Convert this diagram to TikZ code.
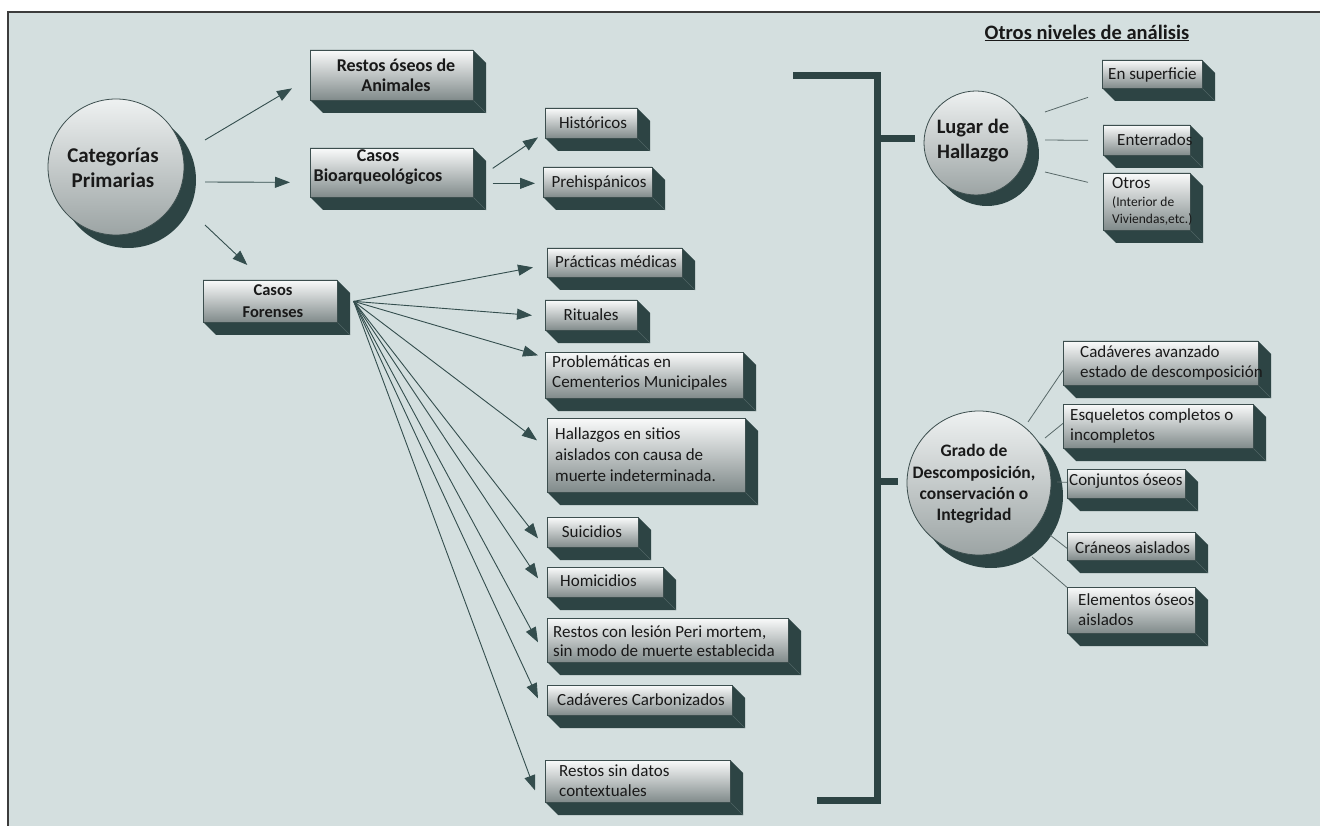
\documentclass[tikz,border=0pt]{standalone}
\usepackage{fontspec}
\setmainfont{Carlito}
\usetikzlibrary{arrows.meta,calc}
\definecolor{bgc}{RGB}{212,223,223}
\definecolor{dk}{RGB}{45,68,68}
\definecolor{dkedge}{RGB}{80,100,100}
\definecolor{arrc}{RGB}{52,78,78}
\definecolor{lnc}{RGB}{88,104,104}
\definecolor{facetop}{RGB}{249,250,250}
\definecolor{facebot}{RGB}{128,138,138}
\definecolor{facedraw}{RGB}{60,78,78}
\definecolor{balltop}{RGB}{238,241,241}
\definecolor{ballbot}{RGB}{156,164,164}
\definecolor{txt}{RGB}{25,25,25}
\definecolor{framec}{RGB}{60,60,60}
\tikzset{
  face/.style={draw=facedraw, line width=0.7pt, top color=facetop, bottom color=facebot, anchor=north west, inner sep=0pt},
  ball/.style={circle, draw=facedraw, line width=0.8pt, top color=balltop, bottom color=ballbot, inner sep=0pt},
  lbl/.style={inner sep=0pt, text=txt, font=\fontsize{17}{20}\selectfont, align=left},
  blbl/.style={inner sep=0pt, text=txt, align=center},
  arr/.style={draw=arrc, line width=0.9pt, -{Triangle[length=15pt,width=11pt]}},
  ln/.style={draw=lnc, line width=0.8pt},
  brk/.style={draw=dk, line width=7pt},
}
\newcommand\cbd{13}
\newcommand\cbox[5]{%
  \pgfmathsetmacro\cbw{#4-#2}%
  \pgfmathsetmacro\cbh{#5-#3}%
  \fill[dk] (#2,#3) -- (#4,#3) -- ({#4+\cbd},{#3+\cbd}) -- ({#4+\cbd},{#5+\cbd}) -- ({#2+\cbd},{#5+\cbd}) -- (#2,#5) -- cycle;
  \draw[dkedge, line width=0.6pt] (#4,#5) -- ({#4+\cbd},{#5+\cbd});
  \node[face, minimum width=\cbw pt, minimum height=\cbh pt] (#1) at (#2,#3) {};
}
\begin{document}
\begin{tikzpicture}[x=1pt,y=-1pt]
\useasboundingbox (0,0) rectangle (1320,826);
\fill[white] (0,0) rectangle (1320,826);
\fill[bgc] (8,12) rectangle (1320,826);
\draw[framec, line width=1.5pt] (8,826) -- (8,12) -- (1320,12);

% title
\node[blbl, font=\bfseries\fontsize{20.5}{24}\selectfont] (title) at (1087,33) {\underline{Otros niveles de análisis}};

% bracket
\draw[brk] (793,76) -- (877,76) -- (877,800) -- (817,800);
\draw[brk] (877,139) -- (915,139);
\draw[brk] (877,481) -- (898,481);

% primary circle
\fill[dk] (128,180) circle[radius=68pt];
\node[ball, minimum size=136pt] (cat) at (116,167) {};
\node[blbl, font=\bfseries\fontsize{21}{25}\selectfont] (cat-t) at (113,168) {Categorías\\Primarias};

% lugar circle
\fill[dk] (987,154) circle[radius=52pt];
\node[ball, minimum size=104pt] (lug) at (976,143) {};
\node[blbl, font=\bfseries\fontsize{20.5}{25}\selectfont] (lug-t) at (973,141) {Lugar de\\Hallazgo};

% grado circle
\fill[dk] (991,496) circle[radius=72pt];
\node[ball, minimum size=144pt] (gra) at (979,483) {};
\node[blbl, font=\bfseries\fontsize{17.5}{21.3}\selectfont] (gra-t) at (974,484) {Grado de\\Descomposición,\\conservación o\\Integridad};

% boxes
\cbox{rest}{310}{50}{473}{100}
\cbox{bio}{310}{148}{473}{197}
\cbox{hist}{545}{108}{637}{138}
\cbox{preh}{543}{167}{652}{197}
\cbox{foren}{203}{280}{337}{322}
\cbox{pract}{547}{248}{682}{277}
\cbox{rit}{545}{300}{637}{330}
\cbox{prob}{545}{352}{743}{398}
\cbox{hall}{547}{418}{745}{492}
\cbox{sui}{547}{517}{638}{547}
\cbox{hom}{547}{567}{663}{597}
\cbox{les}{547}{618}{788}{662}
\cbox{carb}{547}{685}{732}{715}
\cbox{sin}{545}{760}{730}{802}
\cbox{ensup}{1102}{60}{1202}{88}
\cbox{ent}{1103}{125}{1190}{155}
\cbox{otros}{1103}{173}{1190}{230}
\cbox{cad}{1063}{341}{1258}{385}
\cbox{esq}{1063}{404}{1253}{448}
\cbox{conj}{1067}{469}{1185}{498}
\cbox{cran}{1067}{532}{1195}{560}
\cbox{elem}{1067}{587}{1195}{633}

% box texts
\node[blbl, font=\bfseries\fontsize{18}{20}\selectfont] (rest-t) at (396,75) {Restos óseos de\\Animales};
\node[blbl, font=\bfseries\fontsize{18}{20}\selectfont] (bio-t) at (378,167) {Casos\\Bioarqueológicos};
\node[blbl, font=\bfseries\fontsize{16.5}{22}\selectfont] (foren-t) at (273,301) {Casos\\Forenses};
\node[lbl] (hist-t) at (593,123) {Históricos};
\node[lbl] (preh-t) at (599,183) {Prehispánicos};
\node[lbl, anchor=west] (pract-t) at (555,262) {Prácticas médicas};
\node[lbl] (rit-t) at (591,315) {Rituales};
\node[lbl, anchor=west] (prob-t) at (552,373) {Problemáticas en\\Cementerios Municipales};
\node[lbl, anchor=west, font=\fontsize{17}{21}\selectfont] (hall-t) at (555,455) {Hallazgos en sitios\\aislados con causa de\\muerte indeterminada.};
\node[lbl] (sui-t) at (592,532) {Suicidios};
\node[lbl, anchor=west] (hom-t) at (560,581) {Homicidios};
\node[lbl, anchor=west, font=\fontsize{17}{19}\selectfont] (les-t) at (553,641) {Restos con lesión Peri mortem,\\sin modo de muerte establecida};
\node[lbl, anchor=west] (carb-t) at (557,700) {Cadáveres Carbonizados};
\node[lbl, anchor=west] (sin-t) at (559,781) {Restos sin datos\\contextuales};
\node[lbl, anchor=west] (ensup-t) at (1108,75) {En superficie};
\node[lbl, anchor=west] (ent-t) at (1117,140) {Enterrados};
\node[lbl, anchor=west] (otros-t) at (1112,201) {Otros\\[-2pt]{\fontsize{13.5}{17}\selectfont (Interior de}\\[-3pt]{\fontsize{13.5}{17}\selectfont Viviendas,etc.)}};
\node[lbl, anchor=west] (cad-t) at (1080,363) {Cadáveres avanzado\\estado de descomposición};
\node[lbl, anchor=west] (esq-t) at (1070,426) {Esqueletos completos o\\incompletos};
\node[lbl, anchor=west] (conj-t) at (1069,481) {Conjuntos óseos};
\node[lbl, anchor=west] (cran-t) at (1075,548) {Cráneos aislados};
\node[lbl, anchor=west] (elem-t) at (1078,610) {Elementos óseos\\aislados};

% arrows from primary
\draw[arr] ($(cat)+(89,-27)$) -- ($(rest.west)+(-18,13)$);
\draw[arr] ($(cat)+(89,15)$) -- ($(bio.west)+(-20,9.5)$);
\draw[arr] ($(cat)+(89,58)$) -- ($(foren.north)+(-23,-15)$);
% bio arrows
\draw[arr] ($(bio.east)+(19,-4.5)$) -- ($(hist.west)+(-7,14)$);
\draw[arr] ($(bio.east)+(19,10.5)$) -- ($(preh.west)+(-8,1)$);
% fan
\coordinate (fan) at ($(foren.east)+(16,0)$);
\draw[arr] (fan) -- ($(pract.west)+(-14,4.5)$);
\draw[arr] (fan) -- ($(rit.west)+(-13,0)$);
\draw[arr] (fan) -- ($(prob.west)+(-7,-20)$);
\draw[arr] (fan) -- ($(hall.west)+(-10,-15)$);
\draw[arr] (fan) -- ($(sui.west)+(-9,6)$);
\draw[arr] (fan) -- ($(hom.west)+(-9,-4)$);
\draw[arr] (fan) -- ($(les.west)+(-9,2)$);
\draw[arr] (fan) -- ($(carb.west)+(-9,-2)$);
\draw[arr] (fan) -- ($(sin.west)+(-10,9)$);

% lugar lines
\draw[ln] ($(lug)+(69,-31)$) -- ($(ensup.west)+(-14,23)$);
\draw[ln] ($(lug)+(69,-3)$) -- ($(ent.west)+(-15,0)$);
\draw[ln] ($(lug)+(69,29)$) -- ($(otros.west)+(-15,-19.5)$);
% grado lines
\draw[ln] ($(gra)+(49,-61)$) -- ($(cad.west)+(0,7)$);
\draw[ln] ($(gra)+(66,-45)$) -- ($(esq.west)+(0,-3)$);
\draw[ln] ($(gra)+(78,-1)$) -- ($(conj.west)+(0,-1.5)$);
\draw[ln] ($(gra)+(71,52)$) -- ($(cran.west)+(0,2)$);
\draw[ln] ($(gra)+(53,74)$) -- ($(elem.west)+(0,-23)$);
\end{tikzpicture}
\end{document}
